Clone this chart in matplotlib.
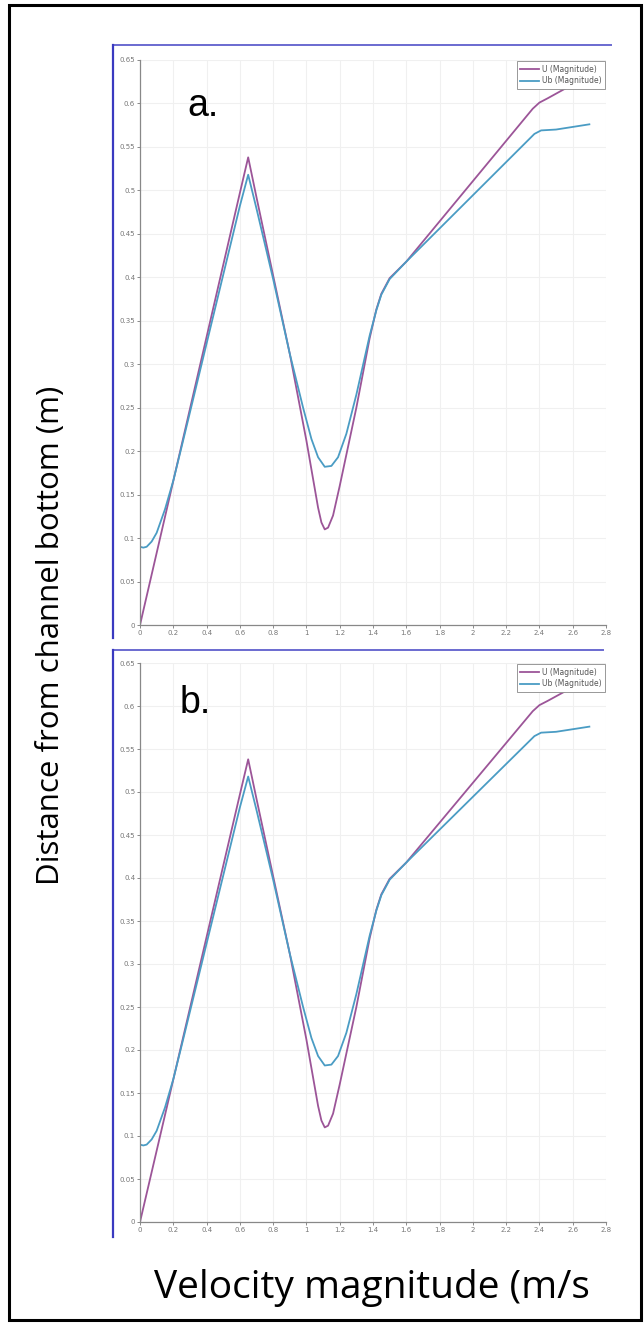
import matplotlib
matplotlib.use("Agg")
import matplotlib.pyplot as plt
from matplotlib.lines import Line2D
from matplotlib.patches import Rectangle
from matplotlib.ticker import FuncFormatter

# velocity profiles (same in both panels)
u_x = [0, 0.6, 0.65, 0.7, 0.8, 0.9, 1.0, 1.04, 1.07, 1.09, 1.11, 1.13,
       1.16, 1.2, 1.3, 1.38, 1.42, 1.45, 1.5, 1.6, 2.36, 2.4, 2.45, 2.62]
u_y = [0, 0.497, 0.538, 0.492, 0.402, 0.312, 0.212, 0.168, 0.135, 0.118,
       0.11, 0.112, 0.126, 0.16, 0.25, 0.33, 0.363, 0.381, 0.399, 0.418, 0.594, 0.601,
       0.606, 0.624]

ub_x = [0, 0.02, 0.04, 0.07, 0.1, 0.15, 0.2, 0.25, 0.6, 0.65, 0.7, 0.8,
        0.9, 0.98, 1.03, 1.07, 1.11, 1.15, 1.19, 1.24, 1.3, 1.38, 1.42, 1.45, 1.5, 1.6,
        2.37, 2.41, 2.5, 2.7]
ub_y = [0.09, 0.089, 0.09, 0.096, 0.106, 0.133, 0.166, 0.205, 0.482, 0.518, 0.479,
        0.398, 0.312, 0.25, 0.214, 0.193, 0.182, 0.183, 0.193, 0.22, 0.265, 0.333,
        0.362, 0.38, 0.398, 0.418, 0.565, 0.569, 0.57, 0.576]

x_ticks = [0, 0.2, 0.4, 0.6, 0.8, 1, 1.2, 1.4, 1.6, 1.8, 2, 2.2, 2.4, 2.6, 2.8]
y_ticks = [0, 0.05, 0.1, 0.15, 0.2, 0.25, 0.3, 0.35, 0.4, 0.45, 0.5, 0.55, 0.6, 0.65]
panel_tags = ["a.", "b."]
series_names = ["U (Magnitude)", "Ub (Magnitude)"]

W, H = 644, 1323
fig = plt.figure(figsize=(W / 100, H / 100), dpi=100)
fig.patch.set_facecolor("white")


def fx(x):
    return x / W


def fy(y):
    return 1 - y / H


def gfmt(v, pos):
    return "%g" % v


# axes boxes in pixel coords: left, right, top, bottom
boxes = [(140, 606, 60, 625), (140, 606, 663, 1222)]
frames = [(113, 611, 45, 638), (113, 603, 650, 1237)]
tag_pos = [(203, 106), (195, 703)]

for i, (l, r, t, b) in enumerate(boxes):
    ax = fig.add_axes([fx(l), fy(b), (r - l) / W, (b - t) / H])
    ax.plot(u_x, u_y, color="#9c5598", lw=1.3, label=series_names[0])
    ax.plot(ub_x, ub_y, color="#4a9cc4", lw=1.3, label=series_names[1])
    ax.set_xlim(0, 2.8)
    ax.set_ylim(0, 0.65)
    ax.set_xticks(x_ticks)
    ax.set_yticks(y_ticks)
    ax.xaxis.set_major_formatter(FuncFormatter(gfmt))
    ax.yaxis.set_major_formatter(FuncFormatter(gfmt))
    ax.tick_params(labelsize=5, labelcolor="#777777", color="#777777",
                   length=2, width=0.6, pad=1.5)
    ax.grid(True, color="#f0f0f0", lw=0.8)
    ax.set_axisbelow(True)
    for s in ["top", "right"]:
        ax.spines[s].set_visible(False)
    for s in ["left", "bottom"]:
        ax.spines[s].set_color("#888888")
        ax.spines[s].set_linewidth(0.9)
    leg = ax.legend(loc="upper right", fontsize=5.5, handlelength=2.4,
                    borderaxespad=0.1, fancybox=False, framealpha=1,
                    edgecolor="#888888", borderpad=0.5, labelspacing=0.35,
                    handletextpad=0.4)
    leg.get_frame().set_linewidth(0.6)
    for txt in leg.get_texts():
        txt.set_color("#555555")
    tx, ty = tag_pos[i]
    fig.text(fx(tx), fy(ty), panel_tags[i], fontsize=27, family="Liberation Sans",
             ha="center", va="center")

    # blue frame of the pasted plot
    fl, fr, ft, fb = frames[i]
    fig.add_artist(Line2D([fx(fl), fx(fr)], [fy(ft), fy(ft)], color="#6a6ad0",
                          lw=1.4, transform=fig.transFigure))
    fig.add_artist(Line2D([fx(fl), fx(fl)], [fy(ft), fy(fb)], color="#3a3ac0",
                          lw=1.6, transform=fig.transFigure))

fig.text(fx(51), fy(635), "Distance from channel bottom (m)", rotation=90,
         fontsize=22.5, family="Open Sans", ha="center", va="center")
fig.text(fx(372), fy(1288), "Velocity magnitude (m/s", fontsize=28,
         family="Open Sans", ha="center", va="center")

fig.add_artist(Rectangle((fx(9), fy(1320)), fx(632), (1315) / H, fill=False,
                         ec="black", lw=2.2, transform=fig.transFigure))

fig.savefig("out.png", dpi=100)
